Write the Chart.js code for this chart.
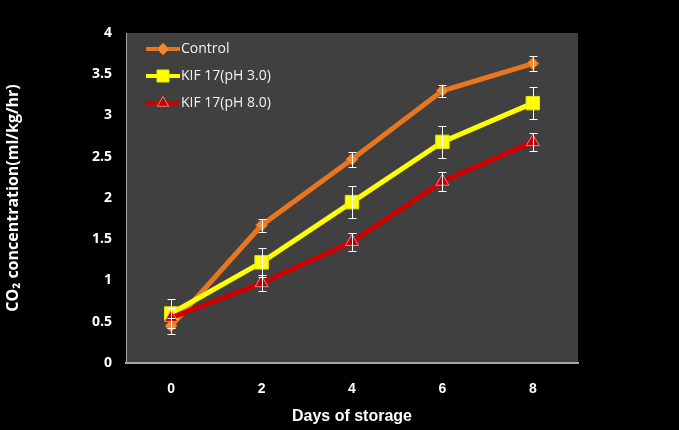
<!DOCTYPE html>
<html>
<head>
<meta charset="utf-8">
<script src="https://cdn.jsdelivr.net/npm/chart.js@4"></script>
<style>
  html, body { margin: 0; padding: 0; background: #000; }
  #wrap { width: 679px; height: 430px; }
</style>
</head>
<body>
<div id="wrap"><canvas id="co2-chart" width="679" height="430"></canvas></div>
<script>
const days = ["0", "2", "4", "6", "8"];
const control = [0.45, 1.67, 2.47, 3.30, 3.63];
const controlErr = [0.10, 0.08, 0.09, 0.07, 0.09];
const kifPh3 = [0.60, 1.22, 1.95, 2.68, 3.15];
const kifPh3Err = [0.18, 0.18, 0.19, 0.19, 0.19];
const kifPh8 = [0.55, 0.97, 1.47, 2.20, 2.68];
const kifPh8Err = [0.12, 0.10, 0.11, 0.11, 0.11];
const yTicks = [0, 0.5, 1, 1.5, 2, 2.5, 3, 3.5, 4];

const errors = [controlErr, kifPh3Err, kifPh8Err];

// grey plot background
const plotBg = {
  id: "plotBg",
  beforeDraw(chart) {
    const { ctx, chartArea: a } = chart;
    ctx.save();
    ctx.fillStyle = "#000";
    ctx.fillRect(0, 0, chart.width, chart.height);
    ctx.fillStyle = "#404040";
    ctx.fillRect(a.left, a.top, a.right - a.left, a.bottom - a.top);
    ctx.restore();
  }
};

// white error bars
const errorBars = {
  id: "errorBars",
  afterDatasetsDraw(chart) {
    const { ctx, scales } = chart;
    ctx.save();
    ctx.strokeStyle = "#ffffff";
    ctx.lineWidth = 1;
    chart.data.datasets.forEach((ds, i) => {
      ds.data.forEach((v, j) => {
        const x = Math.round(scales.x.getPixelForValue(j)) + 0.5;
        const yHi = Math.round(scales.y.getPixelForValue(v + errors[i][j])) + 0.5;
        const yLo = Math.round(scales.y.getPixelForValue(v - errors[i][j])) + 0.5;
        ctx.beginPath();
        ctx.moveTo(x, yHi); ctx.lineTo(x, yLo);
        ctx.moveTo(x - 4, yHi); ctx.lineTo(x + 4, yHi);
        ctx.moveTo(x - 4, yLo); ctx.lineTo(x + 4, yLo);
        ctx.stroke();
      });
    });
    ctx.restore();
  }
};

// legend inside the plot, line + marker samples
const insideLegend = {
  id: "insideLegend",
  afterDraw(chart) {
    const { ctx } = chart;
    const rows = [49, 76, 103];
    ctx.save();
    chart.data.datasets.forEach((ds, i) => {
      const y = rows[i];
      ctx.strokeStyle = ds.borderColor;
      ctx.lineWidth = 4;
      ctx.beginPath();
      ctx.moveTo(146, y); ctx.lineTo(180, y);
      ctx.stroke();
      ctx.fillStyle = ds.pointBackgroundColor;
      ctx.strokeStyle = ds.pointBorderColor;
      ctx.lineWidth = ds.pointBorderWidth;
      Chart.helpers.drawPoint(ctx, {
        pointStyle: ds.pointStyle,
        radius: ds.legendRadius,
        borderWidth: ds.pointBorderWidth
      }, 163, y);
      ctx.fillStyle = "#f2f2f2";
      ctx.font = "14px 'Open Sans', 'Liberation Sans', sans-serif";
      ctx.textBaseline = "middle";
      ctx.fillText(ds.label, 181, y);
    });
    ctx.restore();
  }
};

new Chart(document.getElementById("co2-chart"), {
  type: "line",
  data: {
    labels: days,
    datasets: [
      {
        label: "Control",
        data: control,
        borderColor: "#e8761e",
        backgroundColor: "#f08a30",
        pointBackgroundColor: "#f08a30",
        pointBorderColor: "#d86a14",
        pointBorderWidth: 1,
        pointStyle: "rectRot",
        pointRadius: 6,
        legendRadius: 6,
        borderWidth: 5,
        order: 3
      },
      {
        label: "KIF 17(pH 3.0)",
        data: kifPh3,
        borderColor: "#ffff00",
        backgroundColor: "#ffff00",
        pointBackgroundColor: "#ffff00",
        pointBorderColor: "#e6e600",
        pointBorderWidth: 1,
        pointStyle: "rect",
        pointRadius: 9.5,
        legendRadius: 8.5,
        borderWidth: 5,
        order: 2
      },
      {
        label: "KIF 17(pH 8.0)",
        data: kifPh8,
        borderColor: "#cc0000",
        backgroundColor: "#c00000",
        pointBackgroundColor: "#c00000",
        pointBorderColor: "#f08080",
        pointBorderWidth: 1,
        pointStyle: "triangle",
        pointRadius: 7.5,
        legendRadius: 6.5,
        borderWidth: 5,
        order: 1
      }
    ]
  },
  options: {
    responsive: false,
    animation: false,
    layout: { padding: { left: 0, top: 33, right: 101, bottom: 0 } },
    plugins: {
      legend: { display: false },
      tooltip: { enabled: false }
    },
    scales: {
      x: {
        offset: true,
        grid: { display: false, drawTicks: false },
        border: { color: "#a6a6a6", width: 2 },
        ticks: {
          color: "#ffffff",
          padding: 18,
          font: { family: "'Liberation Sans', Arial, sans-serif", size: 14, weight: "bold" }
        },
        title: {
          display: true,
          text: "Days of storage",
          color: "#ffffff",
          padding: { top: 4 },
          font: { family: "'Liberation Sans', Arial, sans-serif", size: 16, weight: "bold" }
        },
        afterFit(scale) { scale.height = 67; }
      },
      y: {
        min: 0,
        max: 4,
        afterBuildTicks(scale) { scale.ticks = yTicks.map(v => ({ value: v })); },
        grid: { display: false, drawOnChartArea: false, drawTicks: true, tickLength: 5, color: "#a6a6a6" },
        border: { color: "#a6a6a6", width: 1 },
        ticks: {
          color: "#ffffff",
          padding: 9,
          callback: v => String(v),
          font: { family: "'Open Sans', 'Liberation Sans', sans-serif", size: 14, weight: "bold" }
        },
        title: {
          display: true,
          text: "CO₂ concentration(ml/kg/hr)",
          color: "#ffffff",
          padding: { bottom: 2 },
          font: { family: "'Open Sans', 'Liberation Sans', sans-serif", size: 16, weight: "bold" }
        },
        afterFit(scale) { scale.width = 126; }
      }
    }
  },
  plugins: [plotBg, errorBars, insideLegend]
});
</script>
</body>
</html>
